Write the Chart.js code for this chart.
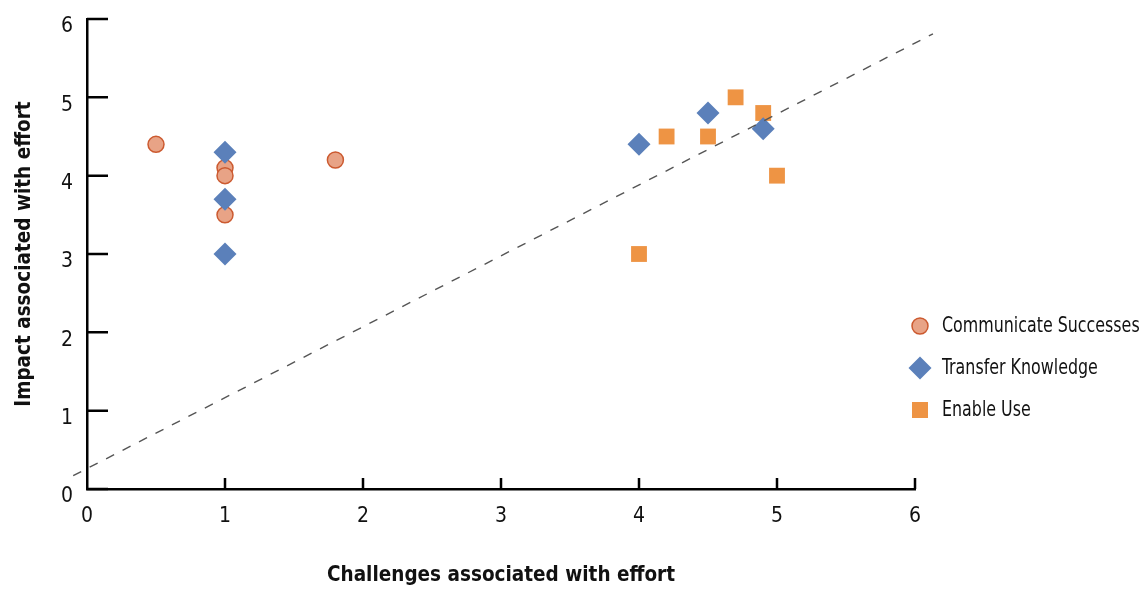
<!DOCTYPE html>
<html>
<head>
<meta charset="utf-8">
<script src="https://cdn.jsdelivr.net/npm/chart.js@4/dist/chart.umd.min.js"></script>
<style>
  html, body { margin: 0; padding: 0; background: #fff; overflow: hidden; }
  #wrap { position: relative; width: 1147px; height: 591px; }
  canvas { display: block; }
  #legend { position: absolute; left: 905px; top: 304px; font-family: 'Liberation Sans Narrow', 'DejaVu Sans Condensed', 'Roboto Condensed', sans-serif; font-size: 21px; color: #111; }
  .item { position: relative; height: 42px; line-height: 42px; white-space: nowrap; }
  .txt { position: absolute; left: 37px; top: 0; display: inline-block; transform: scaleX(0.84); transform-origin: 0 50%; }
  .mk { position: absolute; left: 3px; top: 6px; }
</style>
</head>
<body>
<div id="wrap">
  <canvas id="c" width="1147" height="591"></canvas>
  <div id="legend"></div>
</div>
<script>
// ---- data ----
const seriesNames = ['Communicate Successes', 'Transfer Knowledge', 'Enable Use'];
const commX = [0.5, 1.0, 1.0, 1.0, 1.8];
const commY = [4.4, 4.1, 4.0, 3.5, 4.2];
const transX = [1.0, 1.0, 1.0, 4.0, 4.5, 4.9];
const transY = [4.3, 3.7, 3.0, 4.4, 4.8, 4.6];
const enableX = [4.0, 4.2, 4.5, 4.7, 4.9, 5.0];
const enableY = [3.0, 4.5, 4.5, 5.0, 4.8, 4.0];
const trendX = [-0.1, 6.13];
const trendY = [0.17, 5.81];
const xTicks = [0, 1, 2, 3, 4, 5, 6];
const yTicks = [0, 1, 2, 3, 4, 5, 6];
const xTitle = 'Challenges associated with effort';
const yTitle = 'Impact associated with effort';

const FONT = "'Liberation Sans Narrow', 'DejaVu Sans Condensed', 'Roboto Condensed', sans-serif";
const toPts = (xs, ys) => xs.map((x, i) => ({ x: x, y: ys[i] }));

const colors = {
  comm: { fill: '#E8A386', border: '#CC5A30' },
  trans: '#5B80BA',
  enable: '#EE9444'
};

// inward tick marks drawn from the library's scales
const inwardTicks = {
  id: 'inwardTicks',
  afterDatasetsDraw(chart) {
    const { ctx, scales: { x, y }, chartArea } = chart;
    ctx.save();
    ctx.strokeStyle = '#000';
    ctx.lineWidth = 2.5;
    ctx.beginPath();
    yTicks.forEach(v => {
      const py = y.getPixelForValue(v);
      ctx.moveTo(chartArea.left, py);
      ctx.lineTo(chartArea.left + 21, py);
    });
    xTicks.forEach(v => {
      if (v === 0) return;
      const px = x.getPixelForValue(v);
      ctx.moveTo(px, chartArea.bottom);
      ctx.lineTo(px, chartArea.bottom - 11);
    });
    ctx.stroke();
    ctx.restore();
  }
};

new Chart(document.getElementById('c'), {
  type: 'scatter',
  data: {
    datasets: [
      {
        label: 'trend', type: 'line', data: toPts(trendX, trendY),
        borderColor: '#555', borderWidth: 1.4, borderDash: [9, 9.5],
        pointRadius: 0, fill: false, clip: false, order: 0
      },
      {
        label: seriesNames[1], data: toPts(transX, transY),
        pointStyle: 'rectRot', pointRadius: 11.5, pointHoverRadius: 11.5,
        backgroundColor: colors.trans, borderColor: colors.trans, borderWidth: 0, order: 1
      },
      {
        label: seriesNames[0], data: toPts(commX, commY),
        pointStyle: 'circle', pointRadius: 8, pointHoverRadius: 8,
        backgroundColor: colors.comm.fill, borderColor: colors.comm.border, borderWidth: 1.5, order: 2
      },
      {
        label: seriesNames[2], data: toPts(enableX, enableY),
        pointStyle: 'rect', pointRadius: 11.2, pointHoverRadius: 11.2,
        backgroundColor: colors.enable, borderColor: colors.enable, borderWidth: 0, order: 3
      }
    ]
  },
  options: {
    responsive: false,
    animation: false,
    events: [],
    layout: { padding: { left: 0, top: 19, right: 232, bottom: 0 } },
    plugins: { legend: { display: false }, tooltip: { enabled: false } },
    scales: {
      x: {
        type: 'linear', min: 0, max: 6,
        afterFit: s => { s.height = 102; s.paddingLeft = 0; s.paddingRight = 0; },
        afterBuildTicks: s => { s.ticks = xTicks.map(v => ({ value: v })); },
        grid: { display: false, drawTicks: false },
        border: { display: true, color: '#000', width: 2.5 },
        ticks: { padding: 15, color: '#111', font: { family: FONT, size: 21 } },
        title: { display: true, text: xTitle, color: '#111', font: { family: FONT, size: 20.5, weight: 'bold' }, padding: { top: 0, bottom: 3 } }
      },
      y: {
        type: 'linear', min: 0, max: 6,
        afterFit: s => { s.width = 87; s.paddingTop = 0; s.paddingBottom = 0; },
        afterBuildTicks: s => { s.ticks = yTicks.map(v => ({ value: v })); },
        grid: { display: false, drawTicks: false },
        border: { display: true, color: '#000', width: 2.5 },
        ticks: { padding: 14, labelOffset: 8, color: '#111', font: { family: FONT, size: 21 } },
        title: { display: true, text: yTitle, color: '#111', font: { family: FONT, size: 20.5, weight: 'bold' }, padding: { top: 12, bottom: 0 } }
      }
    }
  },
  plugins: [inwardTicks]
});

// HTML legend
const legendDefs = [
  { name: seriesNames[0], html: '<svg width="24" height="24"><circle cx="12" cy="12" r="8" fill="' + colors.comm.fill + '" stroke="' + colors.comm.border + '" stroke-width="1.5"/></svg>' },
  { name: seriesNames[1], html: '<svg width="24" height="24"><polygon points="12,0.5 23.5,12 12,23.5 0.5,12" fill="' + colors.trans + '"/></svg>' },
  { name: seriesNames[2], html: '<svg width="24" height="24"><rect x="4" y="4" width="16" height="16" fill="' + colors.enable + '"/></svg>' }
];
const lg = document.getElementById('legend');
legendDefs.forEach(d => {
  const it = document.createElement('div');
  it.className = 'item';
  it.innerHTML = '<span class="mk">' + d.html + '</span><span class="txt">' + d.name + '</span>';
  lg.appendChild(it);
});
</script>
</body>
</html>
